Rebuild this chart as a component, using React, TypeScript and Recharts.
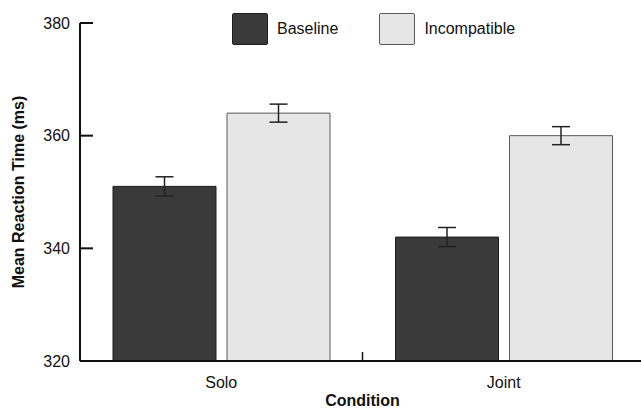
import React from 'react';
import {
    BarChart,
    Bar,
    XAxis,
    YAxis,
    ErrorBar,
    Legend,
    usePlotArea
} from 'recharts';

const conditions = ['Solo', 'Joint'];
const baselineMeans = [351, 342];
const baselineErrors = [1.7, 1.7];
const incompatibleMeans = [364, 360];
const incompatibleErrors = [1.6, 1.6];
const yTicks = [320, 340, 360, 380];

const FONT = '"Liberation Sans", Arial, Helvetica, sans-serif';
const AXIS = '#111';

const chartData = conditions.map((c, i) => ({
    condition: c,
    baseline: baselineMeans[i],
    baselineErr: baselineErrors[i],
    incompatible: incompatibleMeans[i],
    incompatibleErr: incompatibleErrors[i]
}));

const legendItems = [
    { name: 'Baseline', fill: '#3a3a3a', stroke: '#1e1e1e' },
    { name: 'Incompatible', fill: '#e6e6e6', stroke: '#5a5a5a' }
];

function LegendBox() {
    return (
        <div style={{ display: 'flex', alignItems: 'center', fontFamily: FONT, fontSize: 16, color: '#111' }}>
            {legendItems.map((item) => (
                <div key={item.name} style={{ display: 'flex', alignItems: 'center', marginRight: 41 }}>
                    <div style={{
                        width: 34, height: 30, background: item.fill,
                        border: `1px solid ${item.stroke}`, borderRadius: 2
                    }} />
                    <span style={{ marginLeft: 9 }}>{item.name}</span>
                </div>
            ))}
        </div>
    );
}

// little tick between the two condition groups
function GroupDivider() {
    const area = usePlotArea();
    if (!area) return null;
    const x = area.x + area.width / 2;
    const y = area.y + area.height;
    return <line x1={x} x2={x} y1={y} y2={y - 9} stroke={AXIS} strokeWidth={1.5} />;
}

export default function App() {
    return (
        <div style={{ position: 'absolute', left: 0, top: 0, width: 641, height: 408, overflow: 'hidden', background: '#fff' }}>
            <BarChart
                width={650}
                height={408}
                data={chartData}
                margin={{ top: 23, right: 5, left: 0, bottom: 0 }}
                barCategoryGap={33}
                barGap={11}
            >
                <XAxis
                    dataKey="condition"
                    height={47}
                    tickLine={false}
                    tickSize={0}
                    tickMargin={16}
                    axisLine={{ stroke: AXIS, strokeWidth: 2 }}
                    tick={{ fill: '#111', fontSize: 16, fontFamily: FONT }}
                    label={{
                        value: 'Condition', position: 'insideBottom', offset: 2,
                        style: { fill: '#111', fontSize: 16, fontWeight: 'bold', fontFamily: FONT }
                    }}
                />
                <YAxis
                    width={80}
                    domain={[320, 380]}
                    ticks={yTicks}
                    interval={0}
                    tickSize={-13}
                    tickMargin={23}
                    axisLine={{ stroke: AXIS, strokeWidth: 2 }}
                    tickLine={{ stroke: AXIS, strokeWidth: 2 }}
                    tick={{ fill: '#111', fontSize: 16, fontFamily: FONT }}
                    label={{
                        value: 'Mean Reaction Time (ms)', angle: -90, position: 'insideLeft', offset: 18,
                        style: { textAnchor: 'middle', fill: '#111', fontSize: 16, fontWeight: 'bold', fontFamily: FONT }
                    }}
                />
                <Legend
                    layout="horizontal"
                    verticalAlign="middle"
                    align="center"
                    content={() => <LegendBox />}
                    wrapperStyle={{ top: 13, left: 232, width: 'auto', height: 'auto' }}
                />
                <Bar dataKey="baseline" name="Baseline" fill="#3a3a3a" stroke="#1e1e1e" strokeWidth={1} isAnimationActive={false}>
                    <ErrorBar dataKey="baselineErr" width={9} stroke="#222" strokeWidth={1.5} />
                </Bar>
                <Bar dataKey="incompatible" name="Incompatible" fill="#e6e6e6" stroke="#5a5a5a" strokeWidth={1} isAnimationActive={false}>
                    <ErrorBar dataKey="incompatibleErr" width={9} stroke="#222" strokeWidth={1.5} />
                </Bar>
                <GroupDivider />
            </BarChart>
        </div>
    );
}
